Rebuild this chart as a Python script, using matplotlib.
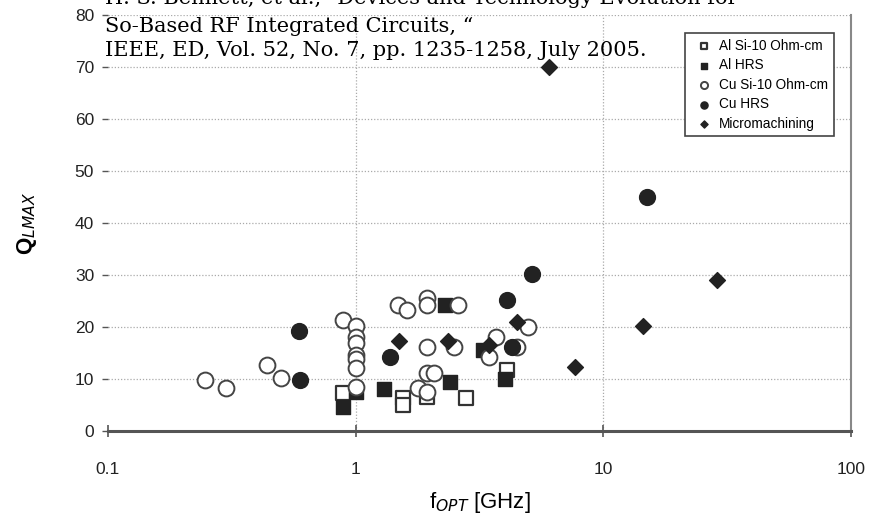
import matplotlib
matplotlib.use("Agg")
import matplotlib.pyplot as plt

# ---- data ----
al_si_x = [0.89, 1.55, 1.55, 1.95, 2.8, 4.07]
al_si_y = [7.3, 6.3, 5.0, 6.5, 6.3, 11.7]

al_hrs_x = [0.89, 1.0, 1.3, 2.29, 2.4, 3.26, 4.0]
al_hrs_y = [4.6, 7.5, 8.0, 24.2, 9.4, 15.6, 10.0]

cu_si_x = [0.246, 0.299, 0.437, 0.498, 0.887, 1.0, 1.0, 1.0, 1.0, 1.0, 1.0, 1.0,
           1.48, 1.61, 1.78, 1.95, 1.95, 1.95, 1.95, 2.08, 1.95, 2.5, 2.58,
           3.47, 3.7, 4.5, 4.95]
cu_si_y = [9.8, 8.3, 12.7, 10.2, 21.3, 20.2, 18.1, 17.0, 14.6, 13.8, 12.1, 8.5,
           24.2, 23.3, 8.3, 25.6, 24.2, 16.2, 11.2, 11.2, 7.5, 16.2, 24.2,
           14.2, 18.0, 16.2, 20.0]

cu_hrs_x = [0.589, 0.594, 1.38, 4.07, 4.27, 5.13, 14.96]
cu_hrs_y = [19.2, 9.8, 14.2, 25.2, 16.2, 30.2, 45.0]

micro_x = [1.49, 2.37, 3.47, 4.47, 6.01, 7.66, 14.4, 28.9]
micro_y = [17.3, 17.3, 16.5, 21.0, 70.0, 12.3, 20.2, 29.0]

series_labels = ["Al Si-10 Ohm-cm", "Al HRS", "Cu Si-10 Ohm-cm", "Cu HRS", "Micromachining"]
x_ticks = [0.1, 1, 10, 100]
x_tick_labels = ["0.1", "1", "10", "100"]
y_ticks = list(range(0, 81, 10))

citation_lines = ['H. S. Bennett, et al., "Devices and Technology Evolution for',
                  'So-Based RF Integrated Circuits, \u201c',
                  'IEEE, ED, Vol. 52, No. 7, pp. 1235-1258, July 2005.']

# ---- figure ----
fig = plt.figure(figsize=(8.7, 5.19), dpi=100)
ax = fig.add_axes([108/870, 1-431/519, 743/870, 416/519])

dark = "#222222"
ax.scatter(al_si_x, al_si_y, marker="s", s=115, facecolors="white", edgecolors="#333333",
           linewidths=1.6, label=series_labels[0], zorder=3)
ax.scatter(al_hrs_x, al_hrs_y, marker="s", s=115, facecolors=dark, edgecolors=dark,
           linewidths=1.0, label=series_labels[1], zorder=4)
ax.scatter(cu_si_x, cu_si_y, marker="o", s=130, facecolors="white", edgecolors="#444444",
           linewidths=1.4, label=series_labels[2], zorder=5)
ax.scatter(cu_hrs_x, cu_hrs_y, marker="o", s=130, facecolors=dark, edgecolors=dark,
           linewidths=1.0, label=series_labels[3], zorder=6)
ax.scatter(micro_x, micro_y, marker="D", s=65, facecolors=dark, edgecolors=dark,
           linewidths=1.0, label=series_labels[4], zorder=7)

ax.set_xscale("log")
ax.set_xlim(0.1, 100)
ax.set_ylim(0, 80)
ax.set_xticks(x_ticks)
ax.set_xticklabels(x_tick_labels)
ax.minorticks_off()
ax.set_yticks(y_ticks)

ax.grid(True, which="major", color="#aaaaaa", linestyle=(0, (1, 1.5)), linewidth=0.9)
ax.set_axisbelow(True)
xg = ax.xaxis.get_gridlines()
xg[0].set_visible(False)
xg[-1].set_visible(False)
ax.yaxis.get_gridlines()[0].set_visible(False)

for s in ["top", "left"]:
    ax.spines[s].set_visible(False)
ax.spines["bottom"].set_color("#555555")
ax.spines["bottom"].set_linewidth(2.2)
ax.spines["right"].set_color("#888888")
ax.spines["right"].set_linewidth(1.5)

ax.tick_params(axis="x", direction="inout", length=8, width=1.2, color="#555555",
               pad=18, labelsize=12.5, labelcolor="#222222")
ax.tick_params(axis="y", direction="out", length=4, width=1.0, color="#555555",
               pad=6, labelsize=12.5, labelcolor="#222222")
for lab in ax.get_xticklabels() + ax.get_yticklabels():
    lab.set_family("Liberation Sans")

ax.set_xlabel(r"f$_{\it OPT}$ [GHz]", fontsize=16, family="Liberation Sans", labelpad=10)
ax.set_ylabel(r"Q$_{\it LMAX}$", fontsize=16, family="Liberation Sans", labelpad=26,
              fontweight="bold")

leg = ax.legend(loc="upper right", bbox_to_anchor=(0.986, 0.972),
                markerscale=0.45, handletextpad=0.1, handlelength=2.0,
                borderpad=0.4, labelspacing=0.4, fancybox=False, framealpha=1,
                edgecolor="#444444", prop={"family": "Liberation Sans", "size": 9.8})
leg.get_frame().set_linewidth(1.2)

line_y = [-1, 26, 51]
for txt, py in zip(citation_lines, line_y):
    fig.text(105/870, 1-py/519, txt, family="DejaVu Serif", fontsize=15,
             va="center", ha="left", color="black")

fig.savefig("out.png", dpi=100)
